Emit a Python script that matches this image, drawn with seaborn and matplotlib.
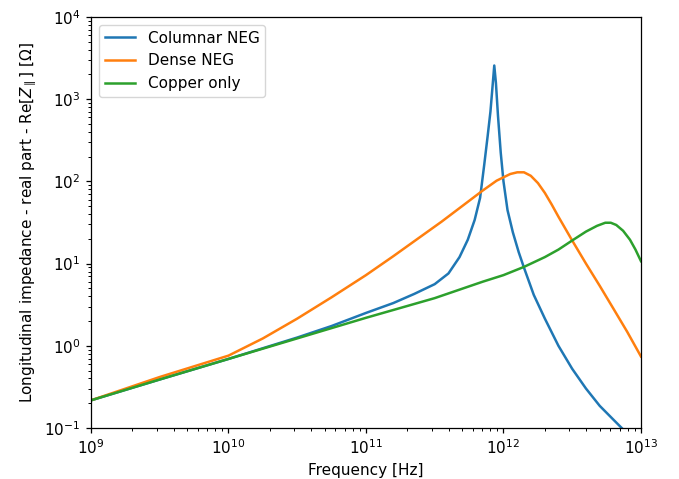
import numpy as np
import pandas as pd
import matplotlib
matplotlib.use("Agg")
import matplotlib.pyplot as plt
import seaborn as sns

# ---- data ----
series_names = ["Columnar NEG", "Dense NEG", "Copper only"]

columnar_freq = [1e9, 3.16e9, 1e10, 3.16e10, 5.62e10, 1e11, 1.58e11, 2.24e11, 3.16e11,
                 3.98e11, 4.79e11, 5.5e11, 6.17e11, 6.76e11, 7.24e11, 7.67e11, 8.04e11,
                 8.32e11, 8.57e11, 8.81e11, 9.12e11, 9.55e11, 1e12, 1.07e12, 1.17e12,
                 1.29e12, 1.41e12, 1.66e12, 2.0e12, 2.51e12, 3.16e12, 3.98e12, 5.01e12,
                 6.31e12, 7.24e12, 7.94e12]
columnar_val = [0.217, 0.389, 0.692, 1.26, 1.74, 2.51, 3.31, 4.27, 5.62,
                7.59, 12.0, 19.5, 33.9, 63.1, 158, 355, 708,
                1410, 2570, 1580, 631, 224, 100, 44.7, 24.0,
                13.8, 8.91, 4.17, 2.14, 1.0, 0.525, 0.302, 0.186,
                0.126, 0.1, 0.0851]

dense_freq = [1e9, 3.16e9, 1e10, 1.78e10, 3.16e10, 5.62e10, 1e11, 1.58e11, 2.51e11,
              3.55e11, 5.01e11, 7.08e11, 8.91e11, 1.12e12, 1.26e12, 1.41e12, 1.58e12,
              1.78e12, 2.0e12, 2.24e12, 2.51e12, 3.16e12, 3.98e12, 5.01e12, 6.31e12,
              7.94e12, 1e13]
dense_val = [0.217, 0.417, 0.759, 1.23, 2.14, 3.89, 7.24, 12.3, 21.4,
             32.4, 50.1, 77.6, 102, 123, 129, 129, 117,
             95.5, 72.4, 52.5, 37.2, 19.1, 10.0, 5.37, 2.82,
             1.48, 0.741]

copper_freq = [1e9, 3.16e9, 1e10, 3.16e10, 1e11, 3.16e11, 7.08e11, 1e12, 1.41e12,
               2.0e12, 2.51e12, 3.16e12, 3.98e12, 4.79e12, 5.5e12, 6.03e12, 6.61e12,
               7.41e12, 8.32e12, 9.12e12, 1e13]
copper_val = [0.217, 0.389, 0.692, 1.23, 2.19, 3.80, 6.03, 7.24, 9.12,
              12.0, 14.8, 19.1, 24.5, 28.8, 31.4, 31.4, 29.5,
              25.1, 19.5, 14.8, 10.7]

# ---- build long-form table ----
frames = []
for name, f, v in zip(series_names,
                      [columnar_freq, dense_freq, copper_freq],
                      [columnar_val, dense_val, copper_val]):
    frames.append(pd.DataFrame({"Frequency": f, "Impedance": v, "Series": name}))
df = pd.concat(frames, ignore_index=True)

plt.rcParams["font.family"] = ["DejaVu Sans"]
plt.rcParams["font.size"] = 11

fig = plt.figure(figsize=(6.79, 4.79), dpi=100)
ax = fig.add_axes([0.134, 0.1065, 0.810, 0.858])

palette = {"Columnar NEG": "#1f77b4", "Dense NEG": "#ff7f0e", "Copper only": "#2ca02c"}
sns.lineplot(data=df, x="Frequency", y="Impedance", hue="Series",
             hue_order=series_names, palette=palette, estimator=None,
             sort=True, linewidth=1.8, ax=ax)

ax.set_xscale("log")
ax.set_yscale("log")
ax.set_xlim(1e9, 1e13)
ax.set_ylim(1e-1, 1e4)
ax.set_xlabel("Frequency [Hz]", fontsize=11)
ax.set_ylabel(r"Longitudinal impedance - real part - Re[$Z_\parallel$] [$\Omega$]", fontsize=11)
ax.tick_params(axis="both", which="major", labelsize=11, length=3.9, width=0.9)
ax.tick_params(axis="both", which="minor", length=2.2, width=0.7)
for s in ax.spines.values():
    s.set_linewidth(0.9)

handles, labels = ax.get_legend_handles_labels()
ax.legend(handles, labels, loc="upper left", fontsize=11, frameon=True)

fig.savefig("out.png", dpi=100)
